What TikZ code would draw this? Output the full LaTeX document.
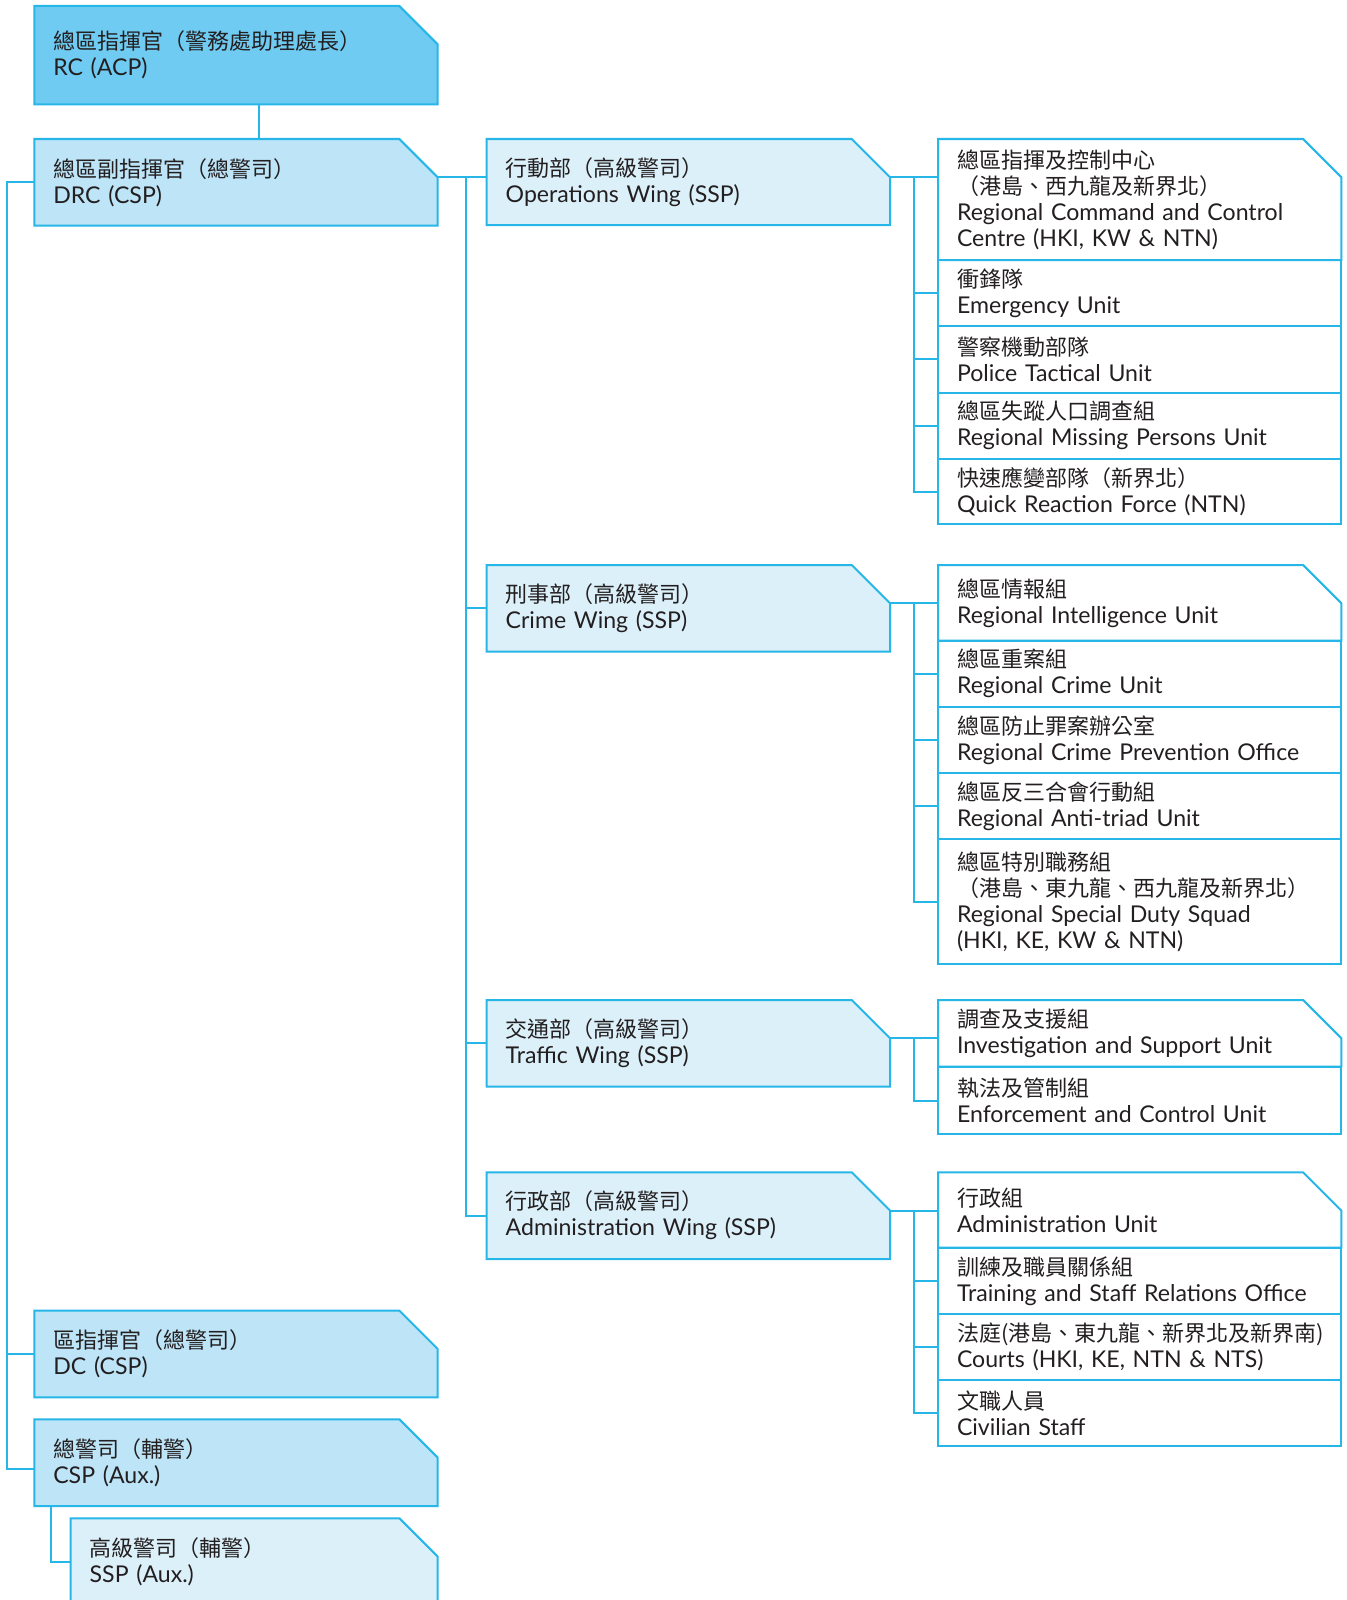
\documentclass[tikz,border=0pt]{standalone}
\usepackage{fontspec}
\setmainfont{Lato}[Scale=1.05]
\newfontfamily\cjk{Noto Sans CJK TC}
\usetikzlibrary{positioning}
\usetikzlibrary{calc}

\definecolor{wire}{RGB}{38,182,232}
\definecolor{ink}{RGB}{35,31,32}
\definecolor{rcfill}{RGB}{112,203,242}
\definecolor{midfill}{RGB}{189,228,247}
\definecolor{wingfill}{RGB}{220,240,250}

\pgfdeclarelayer{background}
\pgfsetlayers{background,main}

% box with the top right corner cut off
\newcommand{\cutbox}[2]{\filldraw[fill=#1,draw=wire,line width=1pt] (#2.south west) -- (#2.north west) -- ([xshift=-19.15pt]#2.north east) -- ([yshift=-19.15pt]#2.north east) -- (#2.south east) -- cycle;}

\tikzset{
  box/.style={anchor=north west,inner xsep=9.5pt,inner ysep=0pt,outer sep=0pt,text width=182.7pt,minimum height=43.35pt,align=left,text=ink,font=\fontsize{11}{13}\selectfont},
  unit/.style={box,minimum height=33pt},
  ruled/.style={draw=wire,line width=1pt},
  link/.style={draw=wire,line width=1pt}
}

\begin{document}
\begin{tikzpicture}[x=0.5pt,y=-0.5pt]
\clip (0,0) rectangle (1347,1600);

% left column
\node[box,minimum height=49.15pt](rc) at (34.3,6){{\cjk 總區指揮官（警務處助理處長）}\\RC (ACP)};
\node[box](drc) at (34.3,139){{\cjk 總區副指揮官（總警司）}\\DRC (CSP)};
\node[box](dc) at (34.3,1310.7){{\cjk 區指揮官（總警司）}\\DC (CSP)};
\node[box](cspaux) at (34.3,1419.3){{\cjk 總警司（輔警）}\\CSP (Aux.)};
\node[box,text width=164.5pt](sspaux) at (70.7,1518.3){{\cjk 高級警司（輔警）}\\SSP (Aux.)};

% wings
\node[box,minimum height=43pt](ops) at (486.7,139){{\cjk 行動部（高級警司）}\\Operations Wing (SSP)};
\node[box](crime) at (486.7,565){{\cjk 刑事部（高級警司）}\\Crime Wing (SSP)};
\node[box](traffic) at (486.7,1000){{\cjk 交通部（高級警司）}\\Traffic Wing (SSP)};
\node[box](admin) at (486.7,1172.3){{\cjk 行政部（高級警司）}\\Administration Wing (SSP)};

% operations units
\node[unit,minimum height=60.5pt](u11) at (938,139){{\cjk 總區指揮及控制中心}\\{\cjk （港島、西九龍及新界北）}\\Regional Command and Control\\Centre (HKI, KW \& NTN)};
\node[unit,ruled](u12) at (u11.south west){{\cjk 衝鋒隊}\\Emergency Unit};
\node[unit,ruled,minimum height=33.35pt](u13) at (u12.south west){{\cjk 警察機動部隊}\\Police Tactical Unit};
\node[unit,ruled](u14) at (u13.south west){{\cjk 總區失蹤人口調查組}\\Regional Missing Persons Unit};
\node[unit,ruled,minimum height=32.8pt](u15) at (u14.south west){{\cjk 快速應變部隊（新界北）}\\Quick Reaction Force (NTN)};

% crime units
\node[unit,minimum height=37.85pt](u21) at (938,565){{\cjk 總區情報組}\\Regional Intelligence Unit};
\node[unit,ruled](u22) at (u21.south west){{\cjk 總區重案組}\\Regional Crime Unit};
\node[unit,ruled,minimum height=33.3pt](u23) at (u22.south west){{\cjk 總區防止罪案辦公室}\\Regional Crime Prevention Office};
\node[unit,ruled](u24) at (u23.south west){{\cjk 總區反三合會行動組}\\Regional Anti-triad Unit};
\node[unit,ruled,minimum height=62.5pt](u25) at (u24.south west){{\cjk 總區特別職務組}\\{\cjk （港島、東九龍、西九龍及新界北）}\\Regional Special Duty Squad\\(HKI, KE, KW \& NTN)};

% traffic units
\node[unit,minimum height=33.35pt](u31) at (938,1000){{\cjk 調查及支援組}\\Investigation and Support Unit};
\node[unit,ruled,minimum height=33.8pt](u32) at (u31.south west){{\cjk 執法及管制組}\\Enforcement and Control Unit};

% administration units
\node[unit,minimum height=37.7pt](u41) at (938,1172.3){{\cjk 行政組}\\Administration Unit};
\node[unit,ruled](u42) at (u41.south west){{\cjk 訓練及職員關係組}\\Training and Staff Relations Office};
\node[unit,ruled,minimum height=33.15pt](u43) at (u42.south west){{\cjk 法庭(港島、東九龍、新界北及新界南)}\\Courts (HKI, KE, NTN \& NTS)};
\node[unit,ruled](u44) at (u43.south west){{\cjk 文職人員}\\Civilian Staff};

\begin{pgfonlayer}{background}
\cutbox{rcfill}{rc}
\foreach \b in {drc,dc,cspaux} {\cutbox{midfill}{\b}}
\foreach \b in {sspaux,ops,crime,traffic,admin} {\cutbox{wingfill}{\b}}
\foreach \b in {u11,u21,u31,u41} {\cutbox{white}{\b}}
\end{pgfonlayer}

\foreach \b in {drc,ops,crime,traffic,admin} {\coordinate(\b-c) at ([yshift=-19.15pt]\b.north east);}
\coordinate(rc-s) at ([xshift=11.5pt]rc.south);
\coordinate(lbus) at ([xshift=-13.65pt]drc.west);
\coordinate(csp-t) at ([yshift=-3.3pt]cspaux.west);
\coordinate(csp-s) at ([xshift=8.2pt]cspaux.south west);
\coordinate(bus) at ([xshift=14pt]drc-c);

\draw[link](rc-s) -- (rc-s |- drc.north);
\draw[link](drc.west) -- (lbus) |- (csp-t);
\draw[link](lbus |- dc.west) -- (dc.west);
\draw[link](csp-s) |- (sspaux.west);

\draw[link](drc-c) -- (drc-c -| ops.west);
\draw[link](bus) |- (admin.west);
\foreach \w in {crime,traffic} {\draw[link](bus |- \w.west) -- (\w.west);}

% wing to units
\foreach \w/\f/\l/\m in {ops/u11/u15/{u12,u13,u14},crime/u21/u25/{u22,u23,u24},traffic/u31/u32/{},admin/u41/u44/{u42,u43}} {
  \draw[link](\w-c) -- (\w-c -| \f.west);
  \coordinate(\w-b) at ($(\w-c -| \f.west)+(-24,0)$);
  \draw[link](\w-b) |- (\l.west);
  \foreach \u in \m {\draw[link](\w-b |- \u.west) -- (\u.west);}
}
\end{tikzpicture}
\end{document}
